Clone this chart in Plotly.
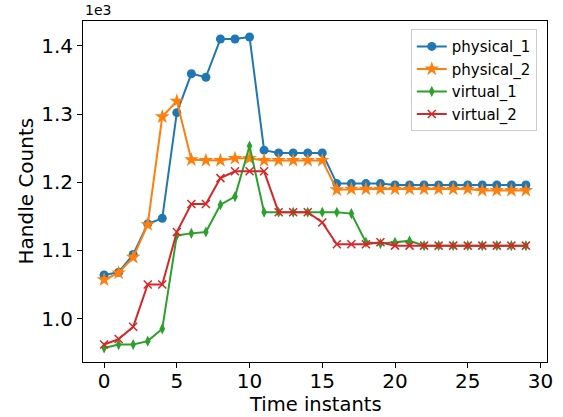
import plotly.graph_objects as go

x = list(range(30))
physical_1 = [1064, 1068, 1094, 1139, 1147, 1302, 1359, 1354, 1410, 1410,
              1413, 1247, 1243, 1243, 1243, 1243, 1198, 1198, 1198, 1198,
              1196, 1196, 1196, 1196, 1196, 1196, 1196, 1196, 1196, 1196]
physical_2 = [1057, 1067, 1090, 1138, 1296, 1319, 1233, 1232, 1232, 1235,
              1235, 1232, 1232, 1232, 1232, 1232, 1189, 1190, 1190, 1190,
              1190, 1190, 1190, 1190, 1190, 1190, 1188, 1188, 1188, 1188]
virtual_1 = [957, 962, 962, 967, 985, 1122, 1125, 1127, 1167, 1179,
             1253, 1156, 1156, 1156, 1156, 1156, 1156, 1154, 1112, 1110,
             1112, 1114, 1107, 1107, 1107, 1107, 1107, 1107, 1107, 1107]
virtual_2 = [962, 970, 988, 1050, 1050, 1127, 1168, 1168, 1206, 1216,
             1216, 1216, 1156, 1156, 1156, 1141, 1109, 1109, 1109, 1112,
             1107, 1107, 1107, 1107, 1107, 1107, 1107, 1107, 1107, 1107]

series = [
    ("physical_1", physical_1, "#1f77b4", dict(symbol="circle", size=9)),
    ("physical_2", physical_2, "#ff7f0e", dict(symbol="star", size=11)),
    ("virtual_1", virtual_1, "#2ca02c", dict(symbol="diamond-tall", size=8)),
    ("virtual_2", virtual_2, "#d62728", dict(symbol="x-thin", size=8)),
]

fig = go.Figure()
for name, vals, color, mk in series:
    m = dict(color=color, line=dict(color=color, width=1.5 if mk["symbol"] == "x-thin" else 0))
    m.update(mk)
    fig.add_trace(go.Scatter(
        x=x, y=[v / 1000 for v in vals], name=name, mode="lines+markers",
        line=dict(color=color, width=2), marker=m))

font = "DejaVu Sans, sans-serif"
fig.update_layout(
    width=563, height=417,
    margin=dict(l=83, r=16, t=21, b=55),
    plot_bgcolor="white", paper_bgcolor="white",
    font=dict(family=font, color="black", size=20),
    showlegend=True,
    legend=dict(x=0.978, y=0.976, xanchor="right", yanchor="top",
                bgcolor="rgba(255,255,255,0.8)", bordercolor="#cccccc", borderwidth=1,
                font=dict(size=15, family=font), tracegroupgap=0),
    xaxis=dict(range=[-1.45, 30.45], tickvals=[0, 5, 10, 15, 20, 25, 30],
               automargin=False, ticklabelstandoff=-4,
               showgrid=False, zeroline=False, showline=True, linecolor="black",
               linewidth=1, mirror=True, ticks="outside", ticklen=5, tickcolor="black",
               tickfont=dict(size=20)),
    yaxis=dict(range=[0.9364, 1.4364], tickvals=[1.0, 1.1, 1.2, 1.3, 1.4],
               ticktext=["1.0", "1.1", "1.2", "1.3", "1.4"],
               automargin=False,
               showgrid=False, zeroline=False, showline=True, linecolor="black",
               linewidth=1, mirror=True, ticks="outside", ticklen=5, tickcolor="black",
               tickfont=dict(size=20)),
    annotations=[
        dict(text="1e3", xref="paper", yref="paper", x=0, y=1,
             xanchor="left", yanchor="bottom", showarrow=False, yshift=1,
             font=dict(size=14, family=font)),
        dict(text="Time instants", xref="paper", yref="paper", x=0.5, y=0,
             xanchor="center", yanchor="bottom", showarrow=False, yshift=-55,
             borderpad=0, font=dict(size=19.5, family=font)),
        dict(text="Handle Counts", xref="paper", yref="paper", x=0, y=0.5,
             xanchor="center", yanchor="middle", showarrow=False, xshift=-58,
             textangle=-90, font=dict(size=20, family=font)),
    ],
)

fig.write_html("out.html")
